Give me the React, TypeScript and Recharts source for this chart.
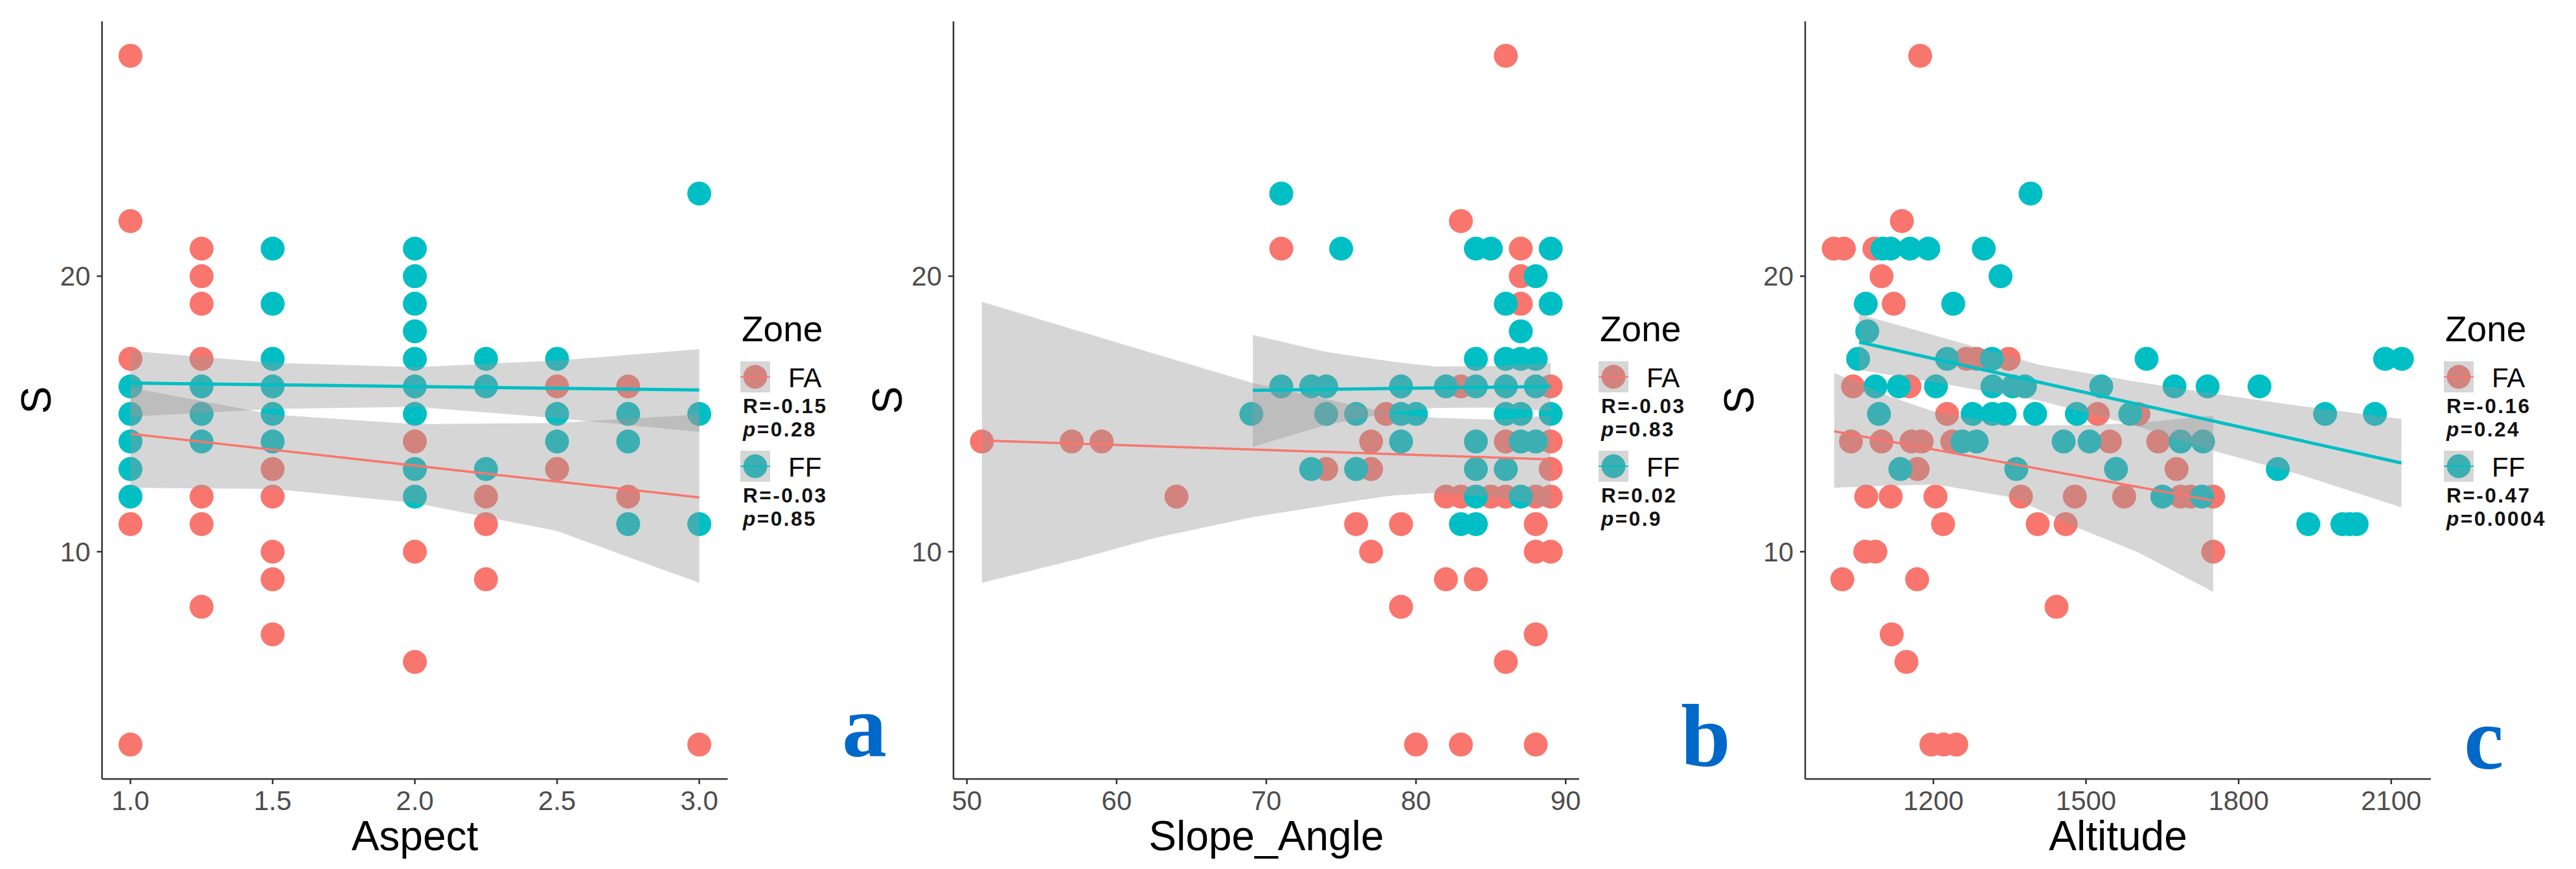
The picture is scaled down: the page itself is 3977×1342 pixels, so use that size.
import React from 'react';
import { ComposedChart, Scatter, Area, Line, XAxis, YAxis } from 'recharts';

type P = [number, number];
type B = [number, number, number];

const FA_COLOR = '#F8766D';
const FF_COLOR = '#00BFC4';

// ---------- shared y axis ----------
const sTicks = [10, 20];
const sDomain: [number, number] = [1.75, 29.25];

// ---------- panel a : Aspect ----------
const aspectTicks = [1.0, 1.5, 2.0, 2.5, 3.0];
const aspectDomain: [number, number] = [0.9, 3.1];
const aspectFA: P[] = [
  [1, 28], [1, 22], [1, 17], [1, 11], [1, 3],
  [1.25, 21], [1.25, 20], [1.25, 19], [1.25, 17], [1.25, 12], [1.25, 11], [1.25, 8],
  [1.5, 13], [1.5, 12], [1.5, 10], [1.5, 9], [1.5, 7],
  [2, 14], [2, 10], [2, 6],
  [2.25, 12], [2.25, 11], [2.25, 9],
  [2.5, 16], [2.5, 13],
  [2.75, 16], [2.75, 12],
  [3, 3],
];
const aspectFF: P[] = [
  [1, 16], [1, 15], [1, 14], [1, 13], [1, 12],
  [1.25, 16], [1.25, 15], [1.25, 14],
  [1.5, 21], [1.5, 19], [1.5, 17], [1.5, 16], [1.5, 15], [1.5, 14],
  [2, 21], [2, 20], [2, 19], [2, 18], [2, 17], [2, 16], [2, 15], [2, 13], [2, 12],
  [2.25, 17], [2.25, 16], [2.25, 13],
  [2.5, 17], [2.5, 15], [2.5, 14],
  [2.75, 15], [2.75, 14], [2.75, 11],
  [3, 23], [3, 15], [3, 11],
];
const aspectFALine: P[] = [[1, 14.28], [3, 11.97]];
const aspectFFLine: P[] = [[1, 16.12], [3, 15.87]];
const aspectFABand: B[] = [[1, 12.32, 15.96], [1.5, 12.28, 14.98], [2, 11.77, 14.63], [2.5, 10.75, 14.67], [3, 8.87, 14.98]];
const aspectFFBand: B[] = [[1, 14.9, 17.29], [1.5, 15.18, 16.86], [2, 15.26, 16.7], [2.5, 14.85, 16.94], [3, 14.35, 17.35]];
const aspectR = ['-0.15', '-0.03'];
const aspectP = ['0.28', '0.85'];

// ---------- panel b : Slope_Angle ----------
const slopeTicks = [50, 60, 70, 80, 90];
const slopeDomain: [number, number] = [49.1, 90.9];
const slopeFA: P[] = [
  [86, 28], [83, 22], [71, 21], [87, 21], [87, 20], [87, 19],
  [83, 16], [89, 16], [78, 15],
  [51, 14], [57, 14], [59, 14], [77, 14], [86, 14], [89, 14],
  [74, 13], [77, 13], [89, 13],
  [64, 12], [82, 12], [83, 12], [85, 12], [86, 12], [88, 12], [89, 12],
  [76, 11], [79, 11], [88, 11],
  [77, 10], [88, 10], [89, 10],
  [82, 9], [84, 9], [79, 8], [88, 7], [86, 6],
  [80, 3], [83, 3], [88, 3],
];
const slopeFF: P[] = [
  [71, 23],
  [75, 21], [84, 21], [85, 21], [89, 21],
  [88, 20], [86, 19], [89, 19], [87, 18],
  [84, 17], [86, 17], [87, 17], [88, 17],
  [71, 16], [73, 16], [74, 16], [79, 16], [82, 16], [84, 16], [86, 16], [88, 16],
  [69, 15], [74, 15], [76, 15], [79, 15], [80, 15], [86, 15], [87, 15], [89, 15],
  [79, 14], [84, 14], [87, 14], [88, 14],
  [73, 13], [76, 13], [84, 13], [86, 13],
  [84, 12], [87, 12],
  [83, 11], [84, 11],
];
const slopeFALine: P[] = [[51, 14.04], [89, 13.35]];
const slopeFFLine: P[] = [[69.1, 15.86], [89, 16.0]];
const slopeFABand: B[] = [
  [51, 8.87, 19.07], [57.4, 9.73, 18.02], [62.7, 10.52, 17.16], [69.1, 11.26, 16.12],
  [76, 11.85, 15.3], [78.4, 12.04, 15.02], [81.3, 12.14, 14.86], [85.3, 11.97, 14.79], [89, 11.61, 14.95],
];
const slopeFFBand: B[] = [
  [69.1, 13.81, 17.87], [74, 14.6, 17.25], [78.4, 15.06, 16.9], [81.3, 15.22, 16.72], [85.3, 15.23, 16.74], [89, 15.1, 16.85],
];
const slopeR = ['-0.03', '0.02'];
const slopeP = ['0.83', '0.9'];

// ---------- panel c : Altitude ----------
const altTicks = [1200, 1500, 1800, 2100];
const altDomain: [number, number] = [948, 2178];
const altFA: P[] = [
  [1174, 28], [1138, 22],
  [1004, 21], [1024, 21], [1084, 21],
  [1098, 20], [1122, 19],
  [1265, 17], [1285, 17], [1348, 17],
  [1042, 16], [1153, 16],
  [1227, 15], [1523, 15], [1603, 15],
  [1038, 14], [1098, 14], [1157, 14], [1177, 14], [1237, 14], [1547, 14], [1642, 14],
  [1169, 13], [1678, 13],
  [1068, 12], [1116, 12], [1204, 12], [1372, 12], [1478, 12], [1575, 12], [1686, 12], [1706, 12], [1750, 12],
  [1219, 11], [1405, 11], [1460, 11],
  [1066, 10], [1086, 10], [1750, 10],
  [1021, 9], [1168, 9], [1442, 8], [1118, 7], [1147, 6],
  [1196, 3], [1220, 3], [1245, 3],
];
const altFF: P[] = [
  [1391, 23],
  [1100, 21], [1116, 21], [1154, 21], [1190, 21], [1299, 21],
  [1332, 20], [1067, 19], [1239, 19], [1070, 18],
  [1052, 17], [1227, 17], [1315, 17], [1619, 17], [2088, 17], [2121, 17],
  [1086, 16], [1132, 16], [1205, 16], [1316, 16], [1356, 16], [1380, 16], [1530, 16], [1674, 16], [1739, 16], [1841, 16],
  [1093, 15], [1277, 15], [1316, 15], [1340, 15], [1400, 15], [1482, 15], [1587, 15], [1970, 15], [2068, 15],
  [1257, 14], [1285, 14], [1456, 14], [1507, 14], [1686, 14], [1730, 14],
  [1135, 13], [1363, 13], [1559, 13], [1877, 13],
  [1650, 12], [1728, 12],
  [1937, 11], [2004, 11], [2018, 11], [2032, 11],
];
const altFALine: P[] = [[1005, 14.37], [1750, 11.85]];
const altFFLine: P[] = [[1054, 17.61], [2120, 13.22]];
const altFABand: B[] = [
  [1005, 12.32, 16.49], [1112, 12.4, 15.65], [1205, 12.44, 15.06], [1356, 11.97, 14.59],
  [1478, 10.91, 14.59], [1603, 9.97, 14.67], [1750, 8.54, 14.94],
];
const altFFBand: B[] = [
  [1054, 16.6, 18.62], [1205, 16.14, 17.84], [1409, 15.48, 16.78], [1603, 14.54, 16.16],
  [1754, 13.65, 15.73], [1921, 12.79, 15.29], [2120, 11.61, 14.82],
];
const altR = ['-0.16', '-0.47'];
const altP = ['0.24', '0.0004'];

const toPts = (a: P[]) => a.map(([x, y]) => ({ x, y }));
const toBand = (a: B[]) => a.map(([x, lo, hi]) => ({ x, y: [lo, hi] }));

const dot = (color: string) => (props: any) => (
  <circle cx={props.cx} cy={props.cy} r={18.5} fill={color} />
);

const SANS = 'Liberation Sans, Arial, sans-serif';

interface PanelProps {
  left: number;
  yw: number;
  width: number;
  domain: [number, number];
  ticks: number[];
  fmt: (v: number) => string;
  title: string;
  fa: P[];
  ff: P[];
  faLine: P[];
  ffLine: P[];
  faBand: B[];
  ffBand: B[];
}

function Panel(p: PanelProps) {
  return (
    <div style={{ position: 'absolute', left: p.left, top: 0 }}>
      <ComposedChart width={p.width} height={1342} margin={{ top: 33, right: 10, bottom: 0, left: 0 }}>
        <XAxis
          type="number"
          dataKey="x"
          domain={p.domain}
          ticks={p.ticks}
          interval={0}
          allowDataOverflow
          tickFormatter={p.fmt}
          height={139}
          tickSize={8}
          tickMargin={10}
          stroke="#333333"
          strokeWidth={2.5}
          tick={{ fill: '#4D4D4D', fontSize: 42, fontFamily: SANS }}
          label={{ value: p.title, position: 'insideBottom', offset: 29, fontSize: 64, fill: '#000000', fontFamily: SANS }}
        />
        <YAxis
          type="number"
          dataKey="y"
          domain={sDomain}
          ticks={sTicks}
          interval={0}
          allowDataOverflow
          width={p.yw}
          tickSize={8}
          tickMargin={10}
          stroke="#333333"
          strokeWidth={2.5}
          tick={{ fill: '#4D4D4D', fontSize: 42, fontFamily: SANS }}
        />
        <Scatter data={toPts(p.fa)} fill={FA_COLOR} shape={dot(FA_COLOR)} isAnimationActive={false} zIndex={50} />
        <Scatter data={toPts(p.ff)} fill={FF_COLOR} shape={dot(FF_COLOR)} isAnimationActive={false} zIndex={51} />
        <Area data={toBand(p.faBand)} dataKey="y" type="linear" stroke="none" fill="#999999" fillOpacity={0.4} dot={false} activeDot={false} isAnimationActive={false} zIndex={100} />
        <Line data={toPts(p.faLine)} dataKey="y" type="linear" stroke={FA_COLOR} strokeWidth={3.5} dot={false} activeDot={false} isAnimationActive={false} zIndex={110} />
        <Area data={toBand(p.ffBand)} dataKey="y" type="linear" stroke="none" fill="#999999" fillOpacity={0.4} dot={false} activeDot={false} isAnimationActive={false} zIndex={120} />
        <Line data={toPts(p.ffLine)} dataKey="y" type="linear" stroke={FF_COLOR} strokeWidth={5} dot={false} activeDot={false} isAnimationActive={false} zIndex={130} />
      </ComposedChart>
    </div>
  );
}

const STAT_STYLE = { fontSize: 31.5, fontWeight: 700, fontFamily: SANS, fill: '#111111', letterSpacing: 2.5 } as const;

function LegendBlock({ ox, r, pv }: { ox: number; r: string[]; pv: string[] }) {
  const keys = [
    { name: 'FA', color: FA_COLOR, cy: 582 },
    { name: 'FF', color: FF_COLOR, cy: 720 },
  ];
  return (
    <g>
      <text x={1145 + ox} y={527} fontSize={55} fontFamily={SANS} fill="#000">Zone</text>
      {keys.map((k, i) => (
        <g key={k.name}>
          <rect x={1143 + ox} y={k.cy - 24} width={46} height={48} fill="#ffffff" />
          <circle cx={1166 + ox} cy={k.cy} r={18.5} fill={k.color} />
          <rect x={1143 + ox} y={k.cy - 24} width={46} height={48} fill="#999999" fillOpacity={0.4} />
          <line x1={1143 + ox} x2={1189 + ox} y1={k.cy} y2={k.cy} stroke={k.color} strokeWidth={2} />
          <text x={1217 + ox} y={k.cy + 16} fontSize={42} fontFamily={SANS} fill="#000">{k.name}</text>
          <text x={1147 + ox} y={k.cy + 56} {...STAT_STYLE}>{'R=' + r[i]}</text>
          <text x={1147 + ox} y={k.cy + 92} {...STAT_STYLE}>
            <tspan fontStyle="italic">p</tspan>{'=' + pv[i]}
          </text>
        </g>
      ))}
    </g>
  );
}

export default function App() {
  const axisXs = [157.5, 1472, 2787];
  return (
    <div style={{ position: 'absolute', left: 0, top: 0, width: 3977, height: 1342, background: '#ffffff', overflow: 'hidden' }}>
      <Panel left={0} yw={157.5} width={1133.5} domain={aspectDomain} ticks={aspectTicks} fmt={(v) => v.toFixed(1)} title="Aspect"
        fa={aspectFA} ff={aspectFF} faLine={aspectFALine} ffLine={aspectFFLine} faBand={aspectFABand} ffBand={aspectFFBand} />
      <Panel left={1330} yw={142} width={1118} domain={slopeDomain} ticks={slopeTicks} fmt={(v) => String(v)} title="Slope_Angle"
        fa={slopeFA} ff={slopeFF} faLine={slopeFALine} ffLine={slopeFFLine} faBand={slopeFABand} ffBand={slopeFFBand} />
      <Panel left={2640} yw={147} width={1123} domain={altDomain} ticks={altTicks} fmt={(v) => String(v)} title="Altitude"
        fa={altFA} ff={altFF} faLine={altFALine} ffLine={altFFLine} faBand={altFABand} ffBand={altFFBand} />
      <svg width={3977} height={1342} style={{ position: 'absolute', left: 0, top: 0, pointerEvents: 'none' }}>
        {axisXs.map((ax, i) => (
          <text key={i} transform={`translate(${ax - 80},618) rotate(-90)`} textAnchor="middle" fontSize={64} fontFamily={SANS} fill="#000">S</text>
        ))}
        <LegendBlock ox={0} r={aspectR} pv={aspectP} />
        <LegendBlock ox={1325} r={slopeR} pv={slopeP} />
        <LegendBlock ox={2630} r={altR} pv={altP} />
        <text x={1300} y={1168} fontSize={138} fontWeight="bold" fontFamily="Liberation Serif, Times New Roman, serif" fill="#0068C8">a</text>
        <text x={2595} y={1183} fontSize={138} fontWeight="bold" fontFamily="Liberation Serif, Times New Roman, serif" fill="#0068C8">b</text>
        <text x={3804} y={1187} fontSize={138} fontWeight="bold" fontFamily="Liberation Serif, Times New Roman, serif" fill="#0068C8">c</text>
      </svg>
    </div>
  );
}
